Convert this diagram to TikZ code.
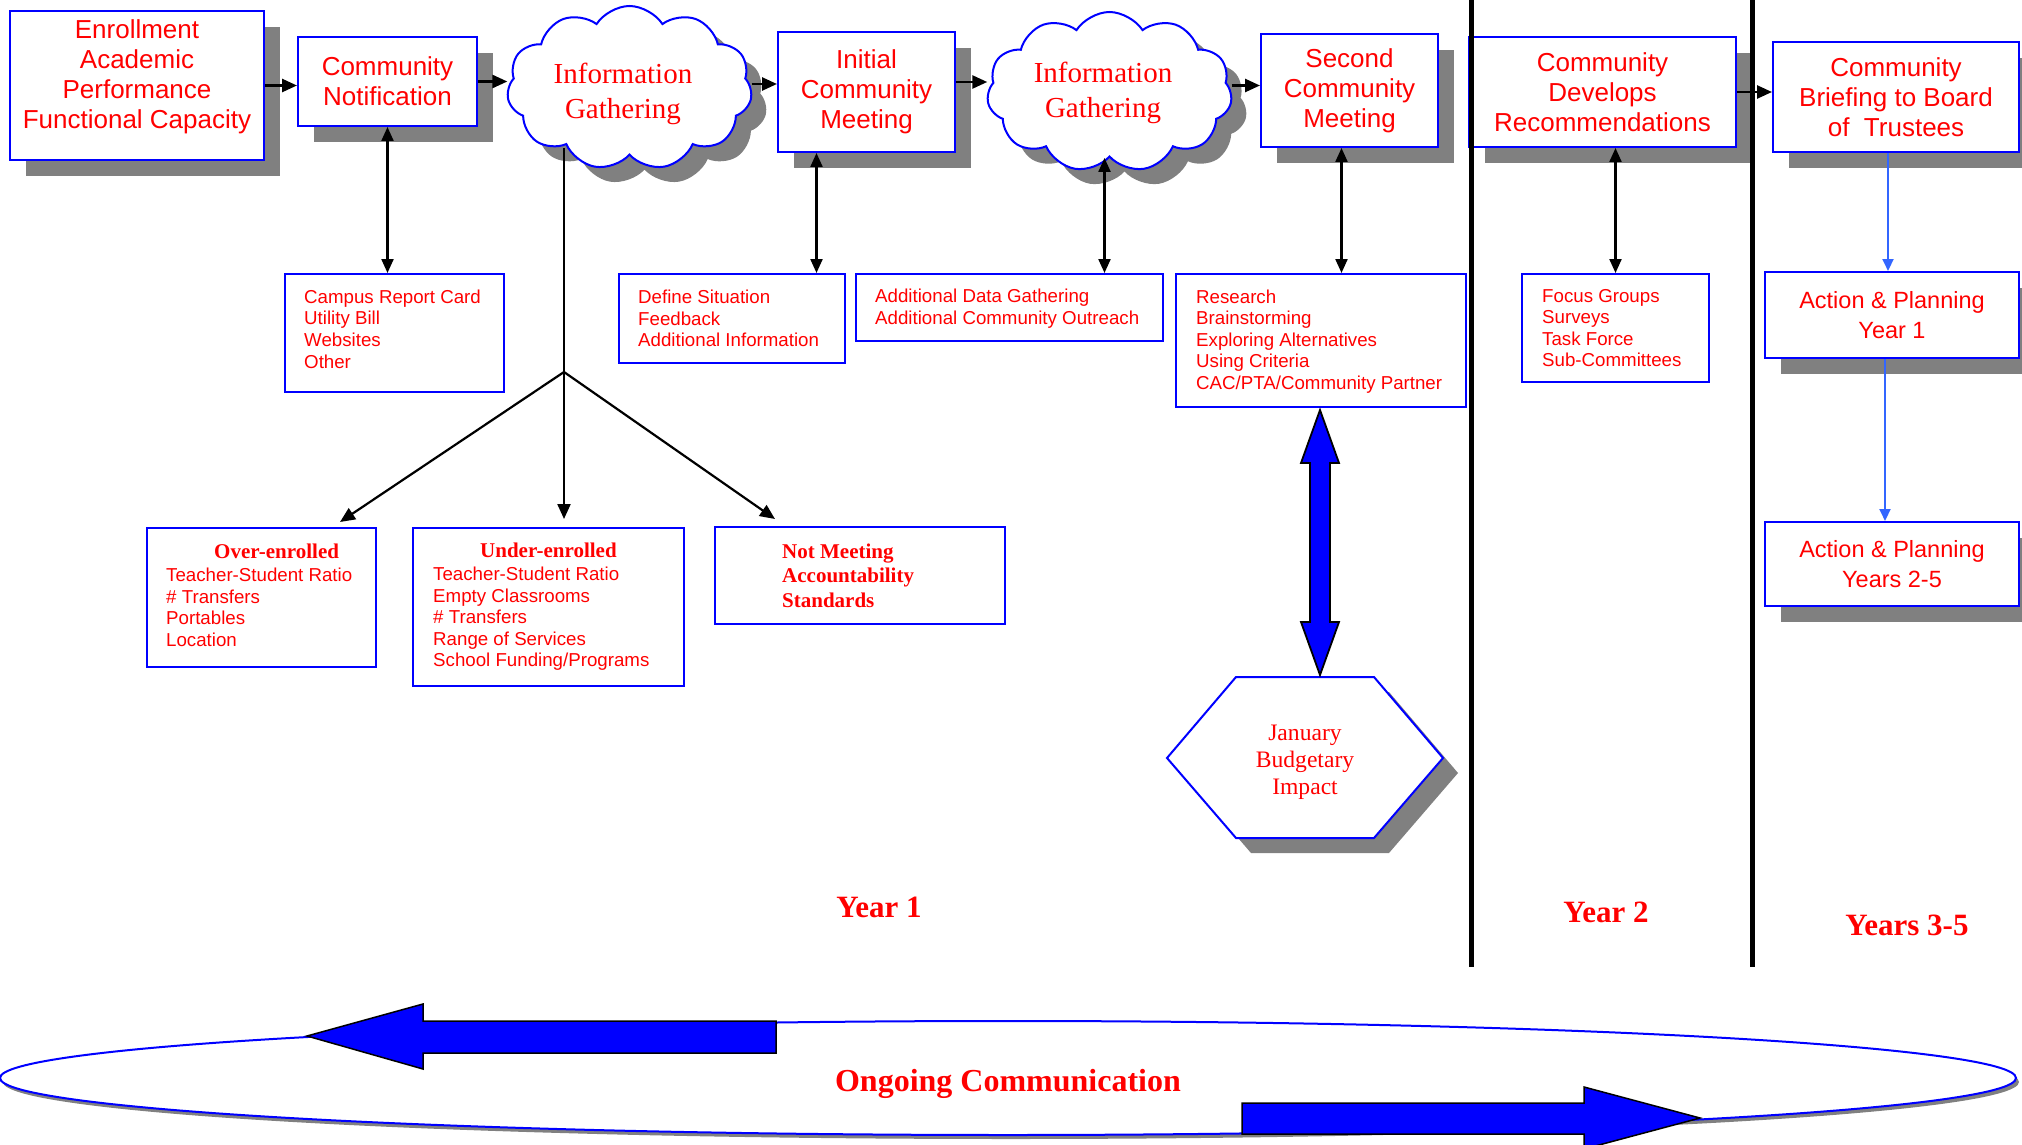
\documentclass[tikz,border=0pt]{standalone}
\usepackage{fontspec}
\setmainfont{Liberation Serif}
\newfontfamily\arialf{Liberation Sans}
\usetikzlibrary{shapes.symbols,shadows,arrows.meta,calc}
\definecolor{boxblue}{RGB}{0,0,255}
\definecolor{txtred}{RGB}{255,0,0}
\definecolor{shgray}{RGB}{128,128,128}
\definecolor{lblue}{RGB}{51,102,255}
\begin{document}
\begin{tikzpicture}[x=1pt,y=-1pt,
  shadowsty/.style={drop shadow={shadow xshift=#1pt,shadow yshift=-#1pt,fill=shgray,opacity=1}},
  shadowsty/.default=16,
  topbox/.style={draw=boxblue,line width=2pt,fill=white,inner sep=0pt,align=center,text=txtred,
    font=\arialf\fontsize{26}{30}\selectfont,shadowsty},
  toptext/.style={inner sep=0pt,align=center,text=txtred,font=\arialf\fontsize{26}{30}\selectfont},
  apbox/.style={topbox,font=\arialf\fontsize{23.5}{29.5}\selectfont},
  listbox/.style={draw=boxblue,line width=2pt,fill=white,inner sep=0pt},
  listtext/.style={inner sep=0pt,align=left,text=txtred,anchor=west,font=\arialf\fontsize{18.7}{21.6}\selectfont},
  cloudsty/.style={cloud,cloud puffs=11,cloud puff arc=115,aspect=1.5,draw=boxblue,line width=2pt,fill=white,
    inner sep=0pt,shadowsty=15},
  cloudtext/.style={inner sep=0pt,align=center,text=txtred,font=\fontsize{29}{35}\selectfont},
  yearlbl/.style={inner sep=0pt,text=txtred,font=\bfseries\fontsize{31}{36}\selectfont},
  arr/.style={line width=2.6pt,-{Triangle[length=15pt,width=13pt]}},
  darr/.style={line width=2.2pt,{Triangle[length=14pt,width=12pt]}-{Triangle[length=14pt,width=12pt]}},
  barr/.style={draw=lblue,line width=2pt,-{Triangle[length=12pt,width=11pt]}},
  sepline/.style={line width=5pt},
  fatarrow/.style={fill=boxblue,draw=black,line width=1.8pt,line join=miter}
]
\useasboundingbox (0,0) rectangle (2022,1145);

% year separators
\coordinate (s1t) at (1471,0); \coordinate (s1b) at (1471,967);
\coordinate (s2t) at (1752,0); \coordinate (s2b) at (1752,967);

% top row
\node[topbox,minimum width=254pt,minimum height=149pt] (enr) at (137,85.5) {};
\node[toptext] (enrt) at (137,77) {Enrollment\\Academic\\Performance\\Functional Capacity};
\node[topbox,minimum width=179pt,minimum height=89pt] (cn) at (387.5,81.5) {Community\\Notification};
\node[cloudsty,minimum width=245pt,minimum height=164pt] (c1) at (629.5,88) {};
\node[cloudtext] (c1t) at (623,94) {Information\\Gathering};
\node[topbox,minimum width=177pt,minimum height=120pt] (icm) at (866.5,92) {Initial\\Community\\Meeting};
\node[cloudsty,minimum width=245pt,minimum height=160pt] (c2) at (1109.5,92) {};
\node[cloudtext] (c2t) at (1103,93) {Information\\Gathering};
\node[topbox,minimum width=177pt,minimum height=113pt] (scm) at (1349.5,90.5) {Second\\Community\\Meeting};
\node[topbox,minimum width=267pt,minimum height=110pt] (cdr) at (1602.5,92) {Community\\Develops\\Recommendations};
\node[topbox,minimum width=246pt,minimum height=110pt] (cbb) at (1896,97) {Community\\Briefing to Board\\of\ \ Trustees};

\draw[sepline] (s1t) -- (s1b);
\draw[sepline] (s2t) -- (s2b);

% action boxes
\node[apbox,minimum width=254pt,minimum height=86pt] (ap1) at (1892,315) {Action \& Planning\\Year 1};
\node[apbox,minimum width=254pt,minimum height=84pt] (ap2) at (1892,564) {Action \& Planning\\Years 2-5};

% list boxes
\node[listbox,minimum width=219pt,minimum height=118pt] (campus) at (394.5,333) {};
\node[listtext] (campust) at ([xshift=20pt,yshift=4pt]campus.west) {Campus Report Card\\Utility Bill\\Websites\\Other};
\node[listbox,minimum width=226pt,minimum height=89pt] (def) at (732,318.5) {};
\node[listtext] (deft) at ([xshift=20pt]def.west) {Define Situation\\Feedback\\Additional Information};
\node[listbox,minimum width=307pt,minimum height=67pt] (add) at (1009.5,307.5) {};
\node[listtext] (addt) at ([xshift=20pt,yshift=-1pt]add.west) {Additional Data Gathering\\Additional Community Outreach};
\node[listbox,minimum width=290pt,minimum height=133pt] (res) at (1321,340.5) {};
\node[listtext] (rest) at ([xshift=21pt,yshift=-1pt]res.west) {Research\\Brainstorming\\Exploring Alternatives\\Using Criteria\\CAC/PTA/Community Partner};
\node[listbox,minimum width=187pt,minimum height=108pt] (foc) at (1615.5,328) {};
\node[listtext] (foct) at ([xshift=21pt]foc.west) {Focus Groups\\Surveys\\Task Force\\Sub-Committees};

\node[listbox,minimum width=229pt,minimum height=139pt] (over) at (261.5,597.5) {};
\node[listtext] (overt) at ([xshift=20pt,yshift=2pt]over.west) {\hspace*{48pt}{\rmfamily\bfseries\fontsize{21}{24}\selectfont Over-enrolled}\\[1pt]Teacher-Student Ratio\\\# Transfers\\Portables\\Location};
\node[listbox,minimum width=271pt,minimum height=158pt] (under) at (548.5,607) {};
\node[listtext] (undert) at ([xshift=21pt]under.west) {\hspace*{47pt}{\rmfamily\bfseries\fontsize{21}{24}\selectfont Under-enrolled}\\[1pt]Teacher-Student Ratio\\Empty Classrooms\\\# Transfers\\Range of Services\\School Funding/Programs};
\node[listbox,minimum width=290pt,minimum height=97pt] (notm) at (860,575.5) {};
\node[listtext,font=\rmfamily\bfseries\fontsize{21}{24.5}\selectfont] (notmt) at ([xshift=68pt]notm.west) {Not Meeting\\Accountability\\Standards};

% horizontal flow arrows
\draw[arr] (enr.east) -- (enr.east -| cn.west);
\draw[arr] (cn.east) -- (cn.east -| c1.west);
\draw[arr] ([yshift=8pt]icm.west -| c1.east) -- ([yshift=8pt]icm.west);
\draw[arr] ([yshift=10pt]icm.east) -- ([yshift=10pt]icm.east -| c2.west);
\draw[arr] ([yshift=5pt]scm.west -| c2.east) -- ([yshift=5pt]scm.west);
\draw[arr] (cdr.east) -- (cdr.east -| cbb.west);

% vertical double arrows
\draw[darr] (cn.south) -- (cn.south |- campus.north);
\draw[darr] ([xshift=-50pt]icm.south) -- ([xshift=-50pt]icm.south |- def.north);
\draw[darr] ([xshift=-5pt]c2.south) -- ([xshift=-5pt]c2.south |- add.north);
\draw[darr] ([xshift=-8pt]scm.south) -- ([xshift=-8pt]scm.south |- res.north);
\draw[darr] (foc.north |- cdr.south) -- (foc.north);

% branch from first information gathering
\coordinate (br) at (564,372);
\coordinate (brl) at (340,522);
\coordinate (brc) at (564,519);
\coordinate (brr) at (775,519);
\draw[line width=2.2pt] (br |- c1.224) -- (br);
\draw[arr,line width=2.2pt] (br) -- (brl);
\draw[arr,line width=2.2pt] (br) -- (brc);
\draw[arr,line width=2.2pt] (br) -- (brr);

% blue arrows
\draw[barr] ([xshift=-8pt]cbb.south) -- ([xshift=-8pt]cbb.south |- ap1.north);
\draw[barr] ([xshift=-7pt]ap1.south) -- ([xshift=-7pt]ap1.south |- ap2.north);

% hexagon
\path[draw=boxblue,line width=2pt,fill=white,shadowsty=15]
  (1167,758) -- (1236,677) -- (1374,677) -- (1443,758) -- (1374,838) -- (1236,838) -- cycle;
\node[inner sep=0pt,align=center,text=txtred,font=\fontsize{23.6}{27}\selectfont] (jan) at (1305,762) {January\\Budgetary\\Impact};

% big double arrow
\path[fatarrow] (1320,410) -- (1339,463) -- (1330,463) -- (1330,622) -- (1339,622) -- (1320,675)
  -- (1301,622) -- (1310,622) -- (1310,463) -- (1301,463) -- cycle;

% year labels
\node[yearlbl] (y1) at (879,907) {Year 1};
\node[yearlbl] (y2) at (1606,912) {Year 2};
\node[yearlbl] (y3) at (1907,925) {Years 3-5};

% ongoing communication
\path[draw=boxblue,line width=2pt,fill=white,drop shadow={shadow xshift=3pt,shadow yshift=-4pt,fill=shgray,opacity=1}]
  (1008,1078) ellipse [x radius=1008pt,y radius=57pt];
\node[inner sep=0pt,text=txtred,font=\bfseries\fontsize{32}{36}\selectfont] (ongo) at (1008,1084) {Ongoing Communication};
\path[fatarrow,line width=1.5pt] (307,1036) -- (423,1004) -- (423,1021) -- (776,1021) -- (776,1053) -- (423,1053) -- (423,1069) -- cycle;
\path[fatarrow,line width=1.5pt] (1242,1103) -- (1584,1103) -- (1584,1087) -- (1700,1118) -- (1584,1149) -- (1584,1134) -- (1242,1134) -- cycle;
\end{tikzpicture}
\end{document}
